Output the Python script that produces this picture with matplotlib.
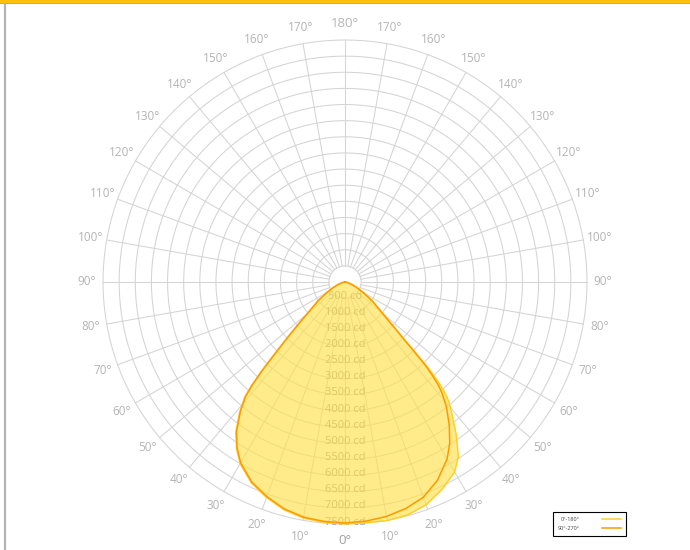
import matplotlib
matplotlib.use("Agg")
import numpy as np
import matplotlib.pyplot as plt
from matplotlib.lines import Line2D

plt.rcParams['font.family'] = ['Open Sans', 'DejaVu Sans']

# ---- data (cd) ----
angles = [0, 5, 10, 15, 20, 25, 30, 33, 36, 39, 41, 42, 43, 44, 45, 46, 47, 48, 50, 55, 60, 65, 70, 75, 80, 85, 90]
c0_180_right = [7480, 7490, 7510, 7480, 7350, 7100, 6800, 6450, 5870, 5270, 4900, 4650, 4250, 3750, 3050, 2500, 2180, 1900, 1540, 1040, 650, 390, 220, 110, 50, 15, 0]
c0_180_left = [7500, 7480, 7430, 7310, 7110, 6870, 6500, 6170, 5760, 5190, 4740, 4340, 3850, 3300, 2850, 2490, 2180, 1920, 1530, 1030, 650, 395, 225, 112, 52, 15, 0]
c90_270_right = [7460, 7440, 7380, 7270, 7100, 6780, 6330, 5960, 5500, 5000, 4600, 4350, 4000, 3550, 2950, 2450, 2150, 1880, 1530, 1040, 650, 390, 220, 110, 50, 15, 0]
c90_270_left = [7470, 7450, 7400, 7280, 7080, 6840, 6470, 6140, 5720, 5150, 4700, 4300, 3800, 3250, 2800, 2450, 2150, 1900, 1520, 1020, 640, 390, 220, 110, 50, 15, 0]

ring_values = list(range(500, 8000, 500))
ring_labels = [f"{v} cd" for v in ring_values]
angle_ticks = list(range(0, 190, 10))
legend_labels = ["0°-180°", "90°-270°"]

fig = plt.figure(figsize=(6.9, 5.5), dpi=100)
ax = fig.add_axes([0.1493, 0.0473, 0.7014, 0.88], projection='polar')
ax.set_theta_zero_location('S')
ax.set_ylim(0, 7500)
ax.grid(False)
ax.set_xticks([])
ax.set_yticks([])
ax.spines['polar'].set_visible(False)

grid_c = '#d4d4d4'
full = np.linspace(0, 2 * np.pi, 721)
for v in ring_values:
    ax.plot(full, np.full_like(full, v), color=grid_c, lw=0.75, zorder=1, clip_on=False)
for a in range(0, 360, 10):
    t = np.deg2rad(a)
    ax.plot([t, t], [ring_values[0], ring_values[-1]], color=grid_c, lw=0.75, zorder=1, clip_on=False)

# ring labels (under the fill)
for v, lab in zip(ring_values, ring_labels):
    ax.text(0, v - 60, lab, ha='center', va='center', fontsize=8, color='#9a9a9a', zorder=1.5)

# angle labels
for a in angle_ticks:
    sides = [a] if a in (0, 180) else [a, -a]
    for s in sides:
        big = a in (0, 180)
        ax.text(np.deg2rad(s), 8000, f"{a}°", ha='center', va='center',
                fontsize=9.5 if big else 8.5, color='#a0a0a0' if a == 0 else '#b4b4b4',
                clip_on=False)

ang = np.array(angles, dtype=float)
th = np.deg2rad(np.concatenate([-ang[::-1], ang[1:]]))
r_y = np.concatenate([np.array(c0_180_left)[::-1], np.array(c0_180_right)[1:]])
r_o = np.concatenate([np.array(c90_270_left)[::-1], np.array(c90_270_right)[1:]])

ax.fill(th, r_y, color='#ffe14a', alpha=0.65, zorder=2, lw=0)
ly, = ax.plot(th, r_y, color='#ffd02a', lw=1.1, zorder=3, clip_on=False)
lo, = ax.plot(th, r_o, color='#ff9900', lw=1.1, zorder=4, clip_on=False)

# page frame decorations
fig.add_artist(Line2D([0, 1], [1 - 1.4 / 550] * 2, transform=fig.transFigure, color='#ffc20e', lw=2.2))
fig.add_artist(Line2D([0, 1], [1 - 3.4 / 550] * 2, transform=fig.transFigure, color='#a8a8a8', lw=0.7))
fig.add_artist(Line2D([5 / 690] * 2, [0, 1 - 3.5 / 550], transform=fig.transFigure, color='#b4b4b4', lw=1.6))

leg = fig.legend(handles=[ly, lo], labels=legend_labels, loc='upper left',
                 bbox_to_anchor=(553 / 690, 1 - 512 / 550), bbox_transform=fig.transFigure,
                 fontsize=4, markerfirst=False, frameon=True, fancybox=False,
                 edgecolor='black', framealpha=1, borderpad=0.9, handlelength=3.4,
                 handletextpad=4, labelspacing=0.7, borderaxespad=0)
leg.get_frame().set_linewidth(0.8)
for t in leg.get_texts():
    t.set_color('#444444')

fig.savefig('out.png', dpi=100)
